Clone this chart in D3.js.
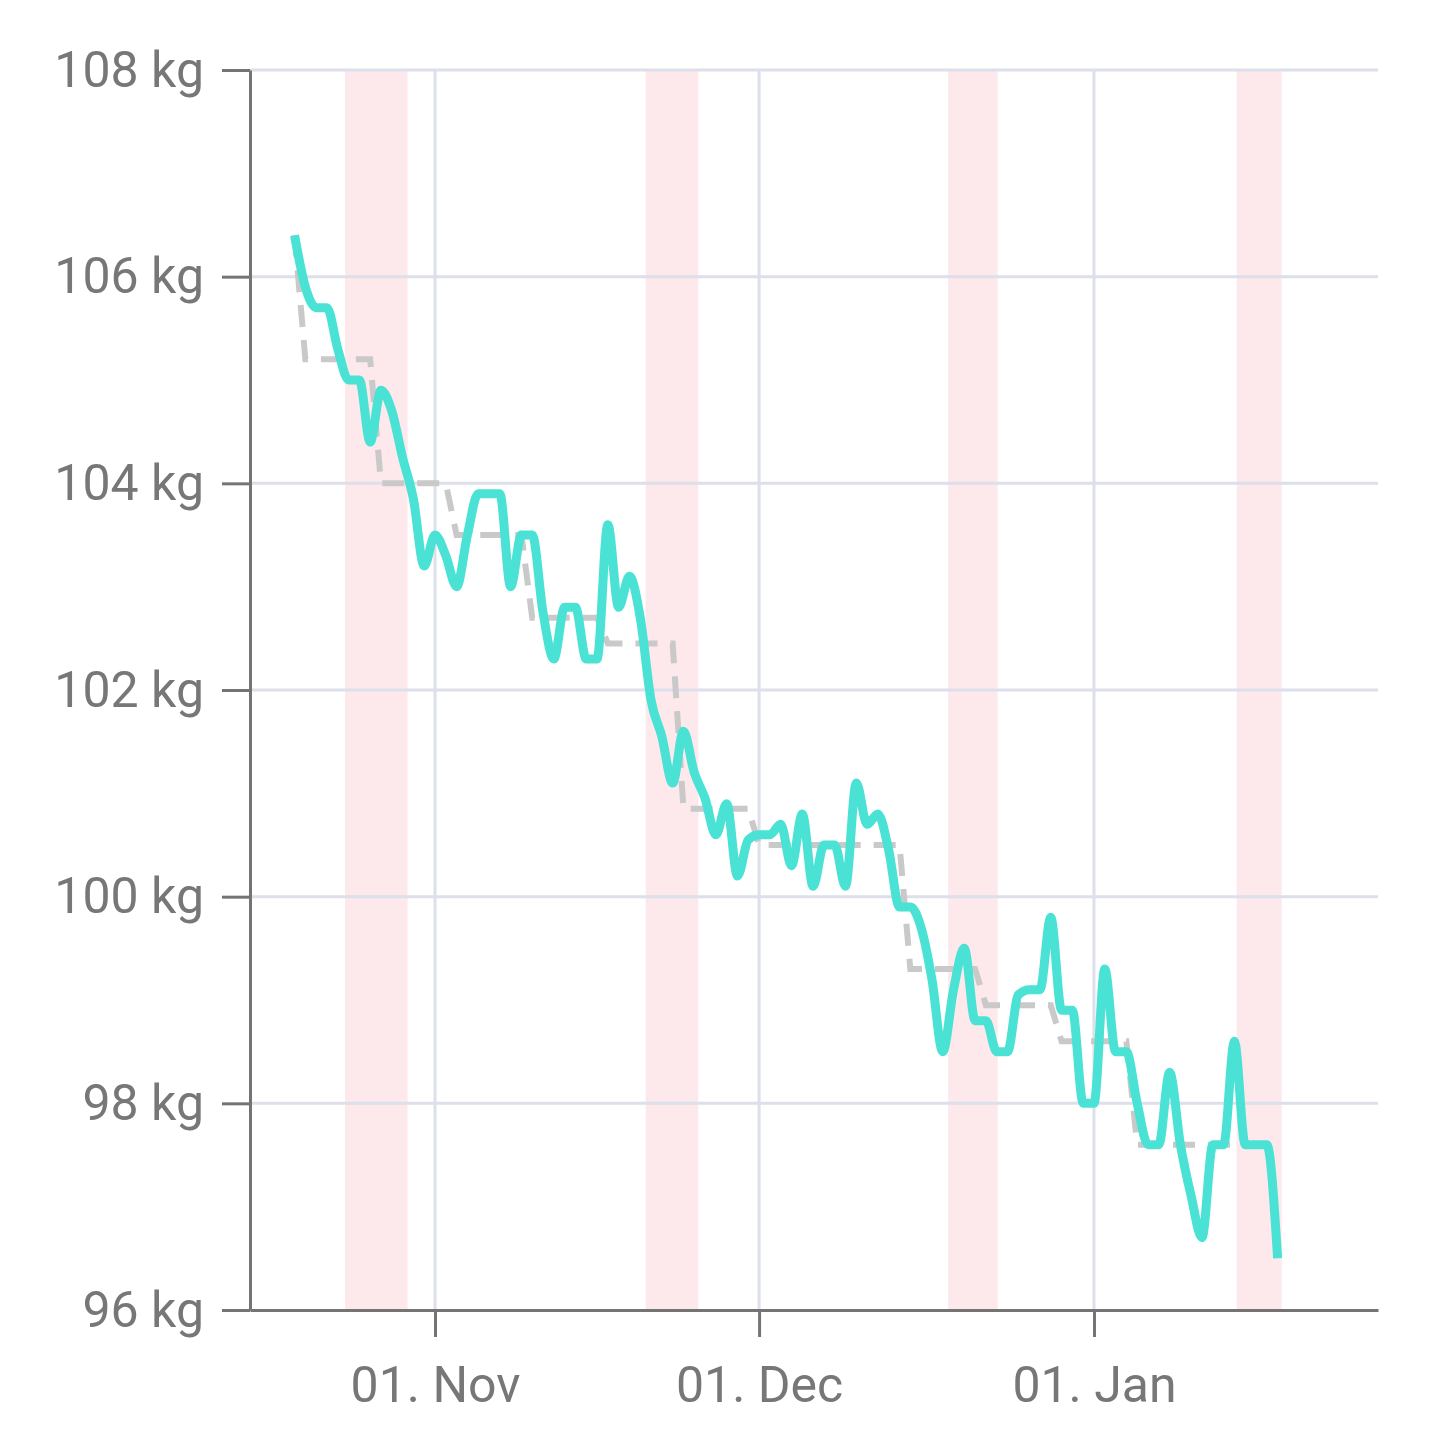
<!DOCTYPE html>
<html>
<head>
<meta charset="utf-8">
<script src="https://cdn.jsdelivr.net/npm/d3@7"></script>
<style>
  html, body { margin: 0; padding: 0; background: #fff; }
  #weight-chart { width: 1440px; height: 1440px; }
</style>
</head>
<body>
<div id="weight-chart"></div>
<script>
// daily weigh-ins, one row per week (Mon..Sun)
const days = [
    "2025-10-19",
    "2025-10-20", "2025-10-21", "2025-10-22", "2025-10-23", "2025-10-24", "2025-10-25", "2025-10-26",
    "2025-10-27", "2025-10-28", "2025-10-29", "2025-10-30", "2025-10-31", "2025-11-01", "2025-11-02",
    "2025-11-03", "2025-11-04", "2025-11-05", "2025-11-06", "2025-11-07", "2025-11-08", "2025-11-09",
    "2025-11-10", "2025-11-11", "2025-11-12", "2025-11-13", "2025-11-14", "2025-11-15", "2025-11-16",
    "2025-11-17", "2025-11-18", "2025-11-19", "2025-11-20", "2025-11-21", "2025-11-22", "2025-11-23",
    "2025-11-24", "2025-11-25", "2025-11-26", "2025-11-27", "2025-11-28", "2025-11-29", "2025-11-30",
    "2025-12-01", "2025-12-02", "2025-12-03", "2025-12-04", "2025-12-05", "2025-12-06", "2025-12-07",
    "2025-12-08", "2025-12-09", "2025-12-10", "2025-12-11", "2025-12-12", "2025-12-13", "2025-12-14",
    "2025-12-15", "2025-12-16", "2025-12-17", "2025-12-18", "2025-12-19", "2025-12-20", "2025-12-21",
    "2025-12-22", "2025-12-23", "2025-12-24", "2025-12-25", "2025-12-26", "2025-12-27", "2025-12-28",
    "2025-12-29", "2025-12-30", "2025-12-31", "2026-01-01", "2026-01-02", "2026-01-03", "2026-01-04",
    "2026-01-05", "2026-01-06", "2026-01-07", "2026-01-08", "2026-01-09", "2026-01-10", "2026-01-11",
    "2026-01-12", "2026-01-13", "2026-01-14", "2026-01-15", "2026-01-16", "2026-01-17", "2026-01-18"
];
const weights = [
    106.4,
    105.9, 105.7, 105.7, 105.3, 105.0, 105.0, 104.4,
    104.9, 104.7, 104.25, 103.85, 103.2, 103.5, 103.3,
    103.0, 103.5, 103.9, 103.9, 103.9, 103.0, 103.5,
    103.5, 102.75, 102.3, 102.8, 102.8, 102.3, 102.3,
    103.6, 102.8, 103.1, 102.7, 101.9, 101.55, 101.1,
    101.6, 101.2, 100.95, 100.6, 100.9, 100.2, 100.55,
    100.6, 100.6, 100.7, 100.3, 100.8, 100.1, 100.5,
    100.5, 100.1, 101.1, 100.7, 100.8, 100.45, 99.9,
    99.9, 99.7, 99.2, 98.5, 99.1, 99.5, 98.8,
    98.8, 98.5, 98.5, 99.05, 99.1, 99.1, 99.8,
    98.9, 98.9, 98.0, 98.0, 99.3, 98.5, 98.5,
    98.0, 97.6, 97.6, 98.3, 97.6, 97.1, 96.7,
    97.6, 97.6, 98.6, 97.6, 97.6, 97.6, 96.5
];

// weekly average (dashed step line)
const weekStarts = ["2025-10-19", "2025-10-20", "2025-10-27", "2025-11-03", "2025-11-10", "2025-11-17", "2025-11-24",
    "2025-12-01", "2025-12-08", "2025-12-15", "2025-12-22", "2025-12-29", "2026-01-05", "2026-01-12"];
const weekEnds = ["2025-10-19", "2025-10-26", "2025-11-02", "2025-11-09", "2025-11-16", "2025-11-23", "2025-11-30",
    "2025-12-07", "2025-12-14", "2025-12-21", "2025-12-28", "2026-01-04", "2026-01-11", "2026-01-18"];
const weekAverages = [106.4, 105.2, 104.0, 103.5, 102.7, 102.45, 100.85, 100.5, 100.5, 99.3, 98.95, 98.6, 97.6, 97.6];

// highlighted periods
const bandStarts = ["2025-10-23T16:00", "2025-11-20T12:00", "2025-12-18T12:00", "2026-01-14T05:00"];
const bandEnds = ["2025-10-29T11:00", "2025-11-25T09:00", "2025-12-23T02:00", "2026-01-18T09:00"];

const xDomain = ["2025-10-14T21:00", "2026-01-27T07:00"];
const yDomain = [96, 108];
const yTicks = [96, 98, 100, 102, 104, 106, 108];
const xTicks = ["2025-11-01", "2025-12-01", "2026-01-01"];

const WeightChart = (() => {
    const container = document.querySelector("#weight-chart");
    const width = 1440;
    const height = 1440;
    const margin = { top: 70, right: 62, bottom: 130, left: 250 };
    const Colors = {
        TEAL: "#4ae2d4",
        DASH: "#c9c9c9",
        BAND: "#fde8ec",
        GRID: "#dddfeb",
        AXIS: "#747474",
        TEXT: "#777777"
    };
    const parseDay = d3.utcParse("%Y-%m-%d");
    const parseTime = d3.utcParse("%Y-%m-%dT%H:%M");

    const svg = d3.select(container)
        .append("svg")
        .attr("width", width)
        .attr("height", height)
        .attr("viewBox", [0, 0, width, height]);

    function render() {
        const x = d3.scaleUtc()
            .domain(xDomain.map(parseTime))
            .range([margin.left, width - margin.right]);
        const y = d3.scaleLinear()
            .domain(yDomain)
            .range([height - margin.bottom, margin.top]);

        const daily = days.map((d, i) => ({ date: parseDay(d), value: weights[i] }));
        const weekly = weekStarts.flatMap((d, i) => [
            { date: parseDay(d), value: weekAverages[i] },
            { date: parseDay(weekEnds[i]), value: weekAverages[i] }
        ]);
        const bands = bandStarts.map((d, i) => ({ start: parseTime(d), end: parseTime(bandEnds[i]) }));

        svg.append("g")
            .selectAll("rect")
            .data(bands)
            .join("rect")
              .attr("fill", Colors.BAND)
              .attr("x", d => x(d.start))
              .attr("y", margin.top)
              .attr("width", d => x(d.end) - x(d.start))
              .attr("height", height - margin.bottom - margin.top);

        // grid
        const grid = svg.append("g")
            .attr("stroke", Colors.GRID)
            .attr("stroke-width", 3);
        grid.selectAll("line.h")
            .data(yTicks.slice(1))
            .join("line")
              .attr("class", "h")
              .attr("x1", margin.left)
              .attr("x2", width - margin.right)
              .attr("y1", d => y(d))
              .attr("y2", d => y(d));
        grid.selectAll("line.v")
            .data(xTicks.map(parseDay))
            .join("line")
              .attr("class", "v")
              .attr("x1", d => x(d))
              .attr("x2", d => x(d))
              .attr("y1", margin.top)
              .attr("y2", height - margin.bottom);

        svg.append("path")
            .datum(weekly)
            .attr("fill", "none")
            .attr("stroke", Colors.DASH)
            .attr("stroke-width", 6)
            .attr("stroke-dasharray", "22,13")
            .attr("d", d3.line()
                .x(d => x(d.date))
                .y(d => y(d.value)));

        svg.append("path")
            .datum(daily)
            .attr("fill", "none")
            .attr("stroke", Colors.TEAL)
            .attr("stroke-width", 9)
            .attr("stroke-linejoin", "round")
            .attr("d", d3.line()
                .curve(d3.curveMonotoneX)
                .x(d => x(d.date))
                .y(d => y(d.value)));

        svg.append("g").call(_yAxis.bind(null, { y }));
        svg.append("g").call(_xAxis.bind(null, { x }));
    }

    function _styleAxis(g) {
        g.select(".domain").attr("stroke", Colors.AXIS).attr("stroke-width", 3);
        g.selectAll(".tick line").attr("stroke", Colors.AXIS).attr("stroke-width", 3);
        g.selectAll(".tick text")
            .attr("fill", Colors.TEXT)
            .attr("font-family", "Roboto, sans-serif")
            .attr("font-size", 50);
    }

    function _yAxis({ y }, g) {
        return g
            .attr("transform", `translate(${margin.left},0)`)
            .call(d3.axisLeft(y).tickValues(yTicks).tickFormat(d => `${d} kg`)
                .tickSize(28).tickSizeOuter(0).tickPadding(18))
            .call(_styleAxis);
    }

    function _xAxis({ x }, g) {
        return g
            .attr("transform", `translate(0,${height - margin.bottom})`)
            .call(d3.axisBottom(x).tickValues(xTicks.map(parseDay)).tickFormat(d3.utcFormat("%d. %b"))
                .tickSize(27).tickSizeOuter(0).tickPadding(29))
            .call(_styleAxis);
    }

    return { render };
})();

WeightChart.render();
</script>
</body>
</html>
